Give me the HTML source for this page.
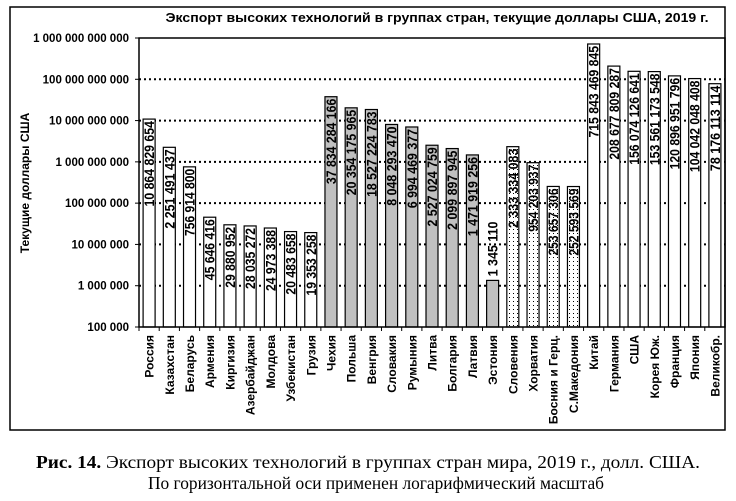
<!DOCTYPE html>
<html><head><meta charset="utf-8">
<style>
html,body{margin:0;padding:0;background:#fff;}
svg{display:block;}
text{font-family:"Liberation Sans",Arial,sans-serif;}
.cap{font-family:"Liberation Serif","Times New Roman",serif;}
</style></head>
<body>
<svg id="chart" width="736" height="501" viewBox="0 0 736 501" xmlns="http://www.w3.org/2000/svg">
<defs>
<pattern id="dots" width="4" height="4" patternUnits="userSpaceOnUse">
<rect width="4" height="4" fill="#fff"/><rect x="1" y="1" width="1" height="1" fill="#000"/>
</pattern>
</defs>
<rect x="10" y="7" width="715" height="423" fill="#fff" stroke="#000" stroke-width="1.5"/>
<text x="437" y="22" font-size="13" font-weight="bold" text-anchor="middle" textLength="543" lengthAdjust="spacingAndGlyphs">Экспорт высоких технологий в группах стран, текущие доллары США, 2019 г.</text>
<text transform="translate(29,183) rotate(-90)" font-size="12" font-weight="bold" text-anchor="middle">Текущие доллары США</text>
<g id="grid"></g>
<g id="bars"></g>
<g id="axes"></g>
<text class="cap" x="36" y="468" font-size="18" textLength="664" lengthAdjust="spacingAndGlyphs"><tspan font-weight="bold">Рис. 14.</tspan> Экспорт высоких технологий в группах стран мира, 2019 г., долл. США.</text>
<text class="cap" x="148" y="489" font-size="18" textLength="456" lengthAdjust="spacingAndGlyphs">По горизонтальной оси применен логарифмический масштаб</text>
</svg>
<script>
const countries = ["Россия","Казахстан","Беларусь","Армения","Киргизия","Азербайджан","Молдова","Узбекистан","Грузия","Чехия","Польша","Венгрия","Словакия","Румыния","Литва","Болгария","Латвия","Эстония","Словения","Хорватия","Босния и Герц.","С.Македония","Китай","Германия","США","Корея Юж.","Франция","Япония","Великобр."];
const values = [10864829654,2251491437,756914800,45646416,29880952,28035272,24973388,20483658,19353258,37834284166,20354175965,18527224783,8048293470,6994469377,2527024759,2099897945,1471919256,1345110,2333334083,954203937,253657306,252593569,715843469845,208677809287,156074126641,153561173548,120896951796,104042048408,78176113114];
const labels = ["10 864 829 654","2 251 491 437","756 914 800","45 646 416","29 880 952","28 035 272","24 973 388","20 483 658","19 353 258","37 834 284 166","20 354 175 965","18 527 224 783","8 048 293 470","6 994 469 377","2 527 024 759","2 099 897 945","1 471 919 256","1 345 110","2 333 334 083","954 203 937","253 657 306","252 593 569","715 843 469 845","208 677 809 287","156 074 126 641","153 561 173 548","120 896 951 796","104 042 048 408","78 176 113 114"];
const groups = [0,0,0,0,0,0,0,0,0,1,1,1,1,1,1,1,1,1,2,2,2,2,3,3,3,3,3,3,3];
const yTicks = [1e5,1e6,1e7,1e8,1e9,1e10,1e11,1e12];
const yTickLabels = ["100 000","1 000 000","10 000 000","100 000 000","1 000 000 000","10 000 000 000","100 000 000 000","1 000 000 000 000"];

const NS="http://www.w3.org/2000/svg";
const L=139,R=725,T=38,B=327,minE=5,maxE=12;
function y(v){return B-(Math.log10(v)-minE)/(maxE-minE)*(B-T);}
const bw=(R-L)/countries.length;
function x(i){return L+i*bw;}
function mk(tag,attrs,parent){const e=document.createElementNS(NS,tag);for(const k in attrs)e.setAttribute(k,attrs[k]);parent.appendChild(e);return e;}
const grid=document.getElementById('grid'),bars=document.getElementById('bars'),axes=document.getElementById('axes');
const fills=["#fff","#c0c0c0","url(#dots)","#fff"];

yTicks.forEach((t,i)=>{
  const yy=y(t);
  if(i>0&&i<yTicks.length-1){
    const g=mk('line',{x1:L,x2:R,y1:yy,y2:yy,stroke:'#000','stroke-width':2,'stroke-dasharray':'2 3'},grid);
    
    
  }
  const tk=mk('line',{x1:L-4,x2:L,y1:yy,y2:yy,stroke:'#000'},axes);
  
  
  const tl=mk('text',{x:L-10,y:yy+4,'font-size':11.5,'font-weight':'bold','text-anchor':'end',fill:'#000'},axes);
  tl.textContent=yTickLabels[i];
  
  
});
mk('rect',{x:L,y:T,width:R-L,height:B-T,fill:'none',stroke:'#000','stroke-width':1.5},axes);

countries.forEach((c,i)=>{
  const cx=x(i)+bw/2, top=y(values[i]), w=12;
  const r=mk('rect',{x:cx-w/2,y:top,width:w,height:B-top,fill:fills[groups[i]],stroke:'#000','stroke-width':1.2},bars);
  
  
  const len=labels[i].length*6.1;
  let t;
  if(len>B-top-2){
    t=mk('text',{transform:`translate(${cx+5},${top-4}) rotate(-90)`,'font-size':14,'font-weight':'bold','text-anchor':'start',textLength:len,lengthAdjust:'spacingAndGlyphs'},bars);
  } else {
    t=mk('text',{transform:`translate(${cx+5},${top+2}) rotate(-90)`,'font-size':14,'font-weight':'bold','text-anchor':'end',textLength:len,lengthAdjust:'spacingAndGlyphs'},bars);
  }
  t.textContent=labels[i];
  
  
  const tk=mk('line',{x1:x(i),x2:x(i),y1:B,y2:B+4,stroke:'#000'},axes);
  
  
  const cl=mk('text',{transform:`translate(${cx+4.5},${B+8}) rotate(-90)`,'font-size':12,'font-weight':'bold','text-anchor':'end'},axes);
  cl.textContent=c;
  
  
});
</script>
</body></html>
